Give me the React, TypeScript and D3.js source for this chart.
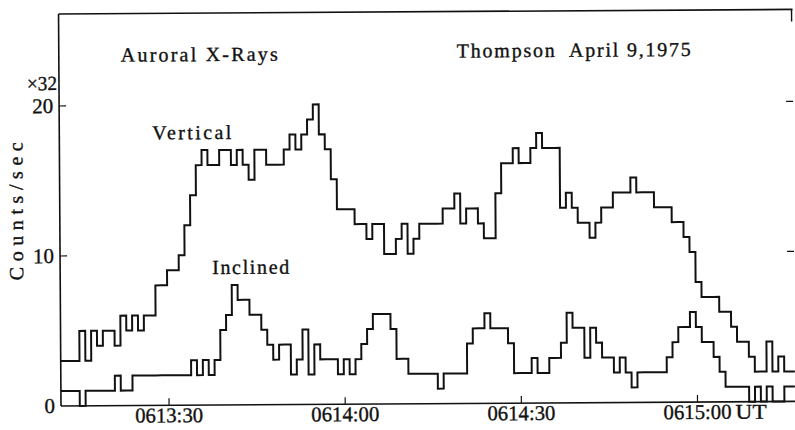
import React, { useRef, useEffect } from 'react';
import * as d3 from 'd3';

// time in seconds after 06:13:00, one bin per second
const binStart = 11.8;
const timeDomain = [11.6, 136.6];

// counts/sec in units of 32
const vertical = [
    3, 3, 3, 5, 3, 5, 4, 5, 5, 4, 6, 5, 6, 5, 6, 6, 8, 8, 9, 9,
    10, 12, 14, 16, 17, 16, 16, 17, 17, 16, 17, 16, 15, 17, 17, 16, 16, 16, 17, 18,
    17, 18, 19, 20, 18, 17, 15, 13, 13, 13, 12, 12, 11, 12, 12, 10, 10, 11, 12, 10,
    11, 12, 12, 12, 12, 13, 13, 14, 12, 13, 13, 12, 11, 11, 14, 16, 16, 17, 16, 16,
    17, 18, 17, 17, 17, 13, 14, 13, 12, 12, 11, 12, 13, 13, 14, 14, 14, 15, 14, 14,
    14, 13, 13, 13, 12, 12, 11, 10, 8, 7, 7, 7, 6, 6, 5, 4, 4, 3, 2, 2,
    4, 2, 3, 2, 2
];
const inclined = [
    1, 1, 1, 0, 1, 1, 1, 1, 1, 2, 1, 1, 2, 2, 2, 2, 2, 2, 2, 2,
    2, 2, 3, 2, 3, 2, 3, 5, 6, 8, 7, 7, 6, 6, 5, 4, 3, 4, 4, 2,
    3, 5, 2, 4, 3, 3, 3, 2, 3, 2, 3, 4, 5, 6, 6, 6, 5, 3, 3, 2,
    2, 2, 2, 2, 1, 2, 2, 2, 2, 4, 5, 5, 6, 5, 5, 5, 4, 2, 2, 2,
    3, 2, 2, 3, 3, 4, 6, 5, 5, 3, 5, 4, 3, 3, 2, 3, 2, 1, 2, 2,
    2, 2, 2, 3, 4, 5, 5, 6, 5, 4, 4, 3, 2, 1, 1, 1, 1, 0, 1, 0,
    1, 0, 0, 1, 1
];

const xTicks = [30, 60, 90, 120];
const xTickLabels = ['0613:30', '0614:00', '0614:30', '0615:00'];
const yTicks = [0, 10, 20];

const App = () => {
    const svgRef = useRef(null);

    useEffect(() => {
        if (!svgRef.current) {
            return;
        }
        const svg = d3.select(svgRef.current);
        svg.selectAll('*').remove();

        const left = 61, right = 795, bottom = 406, top = 14;
        const ink = '#111';
        const font = 'Liberation Serif, Times New Roman, DejaVu Serif, serif';

        const xScale = d3.scaleLinear().domain(timeDomain).range([left, right]);
        const yScale = d3.scaleLinear().domain([0, 20]).range([bottom, bottom - 300]);

        svg.append('defs').append('clipPath').attr('id', 'plot')
            .append('rect')
            .attr('x', left).attr('y', 0)
            .attr('width', right - left).attr('height', bottom + 2);

        // scanned page is tilted a little
        const g = svg.append('g').attr('transform', `rotate(-0.36, ${left}, ${bottom})`);

        const addText = (sel, size) => sel
            .style('font-family', font)
            .style('font-size', `${size}px`)
            .attr('fill', ink)
            .attr('stroke', ink)
            .attr('stroke-width', 0.35);

        // frame
        g.append('line').attr('x1', left).attr('x2', right).attr('y1', bottom).attr('y2', bottom)
            .attr('stroke', ink).attr('stroke-width', 1.6);
        g.append('line').attr('x1', left).attr('x2', right).attr('y1', top).attr('y2', top)
            .attr('stroke', ink).attr('stroke-width', 1.6);
        g.append('line').attr('x1', left).attr('x2', left).attr('y1', top).attr('y2', bottom)
            .attr('stroke', ink).attr('stroke-width', 1.6);
        g.append('line').attr('x1', right - 1).attr('x2', right - 1).attr('y1', top).attr('y2', top + 12)
            .attr('stroke', ink).attr('stroke-width', 1.4);

        // x ticks
        xTicks.forEach((t, i) => {
            g.append('line').attr('x1', xScale(t)).attr('x2', xScale(t))
                .attr('y1', bottom).attr('y2', bottom - 7)
                .attr('stroke', ink).attr('stroke-width', 1.2);
            addText(g.append('text'), 21)
                .attr('x', xScale(t)).attr('y', bottom + 17)
                .attr('text-anchor', 'middle')
                .attr('textLength', 68).attr('lengthAdjust', 'spacingAndGlyphs')
                .text(xTickLabels[i]);
        });
        addText(g.append('text'), 21)
            .attr('x', xScale(120) + 38).attr('y', bottom + 17)
            .attr('textLength', 31).attr('lengthAdjust', 'spacingAndGlyphs')
            .text('UT');

        // y ticks
        yTicks.forEach((v) => {
            if (v > 0) {
                g.append('line').attr('x1', left).attr('x2', left + 7)
                    .attr('y1', yScale(v)).attr('y2', yScale(v))
                    .attr('stroke', ink).attr('stroke-width', 1.2);
                g.append('line').attr('x1', right - 7).attr('x2', right)
                    .attr('y1', yScale(v)).attr('y2', yScale(v))
                    .attr('stroke', ink).attr('stroke-width', 1.2);
            }
            addText(g.append('text'), 21)
                .attr('x', left - 6).attr('y', yScale(v) + 7)
                .attr('text-anchor', 'end')
                .text(String(v));
        });
        addText(g.append('text'), 20)
            .attr('x', left - 2).attr('y', yScale(20) - 16)
            .attr('text-anchor', 'end')
            .attr('textLength', 30).attr('lengthAdjust', 'spacingAndGlyphs')
            .text('\u00d732');
        addText(g.append('text'), 20)
            .attr('transform', `translate(24, ${yScale(13)}) rotate(-90)`)
            .attr('text-anchor', 'middle')
            .attr('textLength', 138).attr('lengthAdjust', 'spacing')
            .text('Counts/sec');

        // step traces
        const line = d3.line()
            .x(d => xScale(d[0]))
            .y(d => yScale(d[1]))
            .curve(d3.curveStepAfter);
        const toPoints = (vals) => {
            const pts = vals.map((v, i) => [i === 0 ? timeDomain[0] : binStart + i, v]);
            pts.push([binStart + vals.length, vals[vals.length - 1]]);
            return pts;
        };
        const traces = g.append('g').attr('clip-path', 'url(#plot)');
        [vertical, inclined].forEach((vals) => {
            traces.append('path')
                .attr('d', line(toPoints(vals)))
                .attr('fill', 'none')
                .attr('stroke', ink)
                .attr('stroke-width', 2)
                .attr('stroke-linejoin', 'miter');
        });

        // labels
        const labels = [
            { text: 'Auroral X-Rays', x: 123, y: 62, len: 157 },
            { text: 'Thompson  April 9,1975', x: 459, y: 60, len: 234 },
            { text: 'Vertical', x: 154, y: 140, len: 79 },
            { text: 'Inclined', x: 213, y: 275, len: 77 },
        ];
        labels.forEach((l) => {
            addText(g.append('text'), 20)
                .attr('x', l.x).attr('y', l.y)
                .attr('textLength', l.len).attr('lengthAdjust', 'spacing')
                .style('white-space', 'pre')
                .text(l.text);
        });
    }, []);

    return (
        <svg
            ref={svgRef}
            width={795}
            height={430}
            style={{ position: 'absolute', left: 0, top: 0, background: 'white' }}
        />
    );
};

export default App;
